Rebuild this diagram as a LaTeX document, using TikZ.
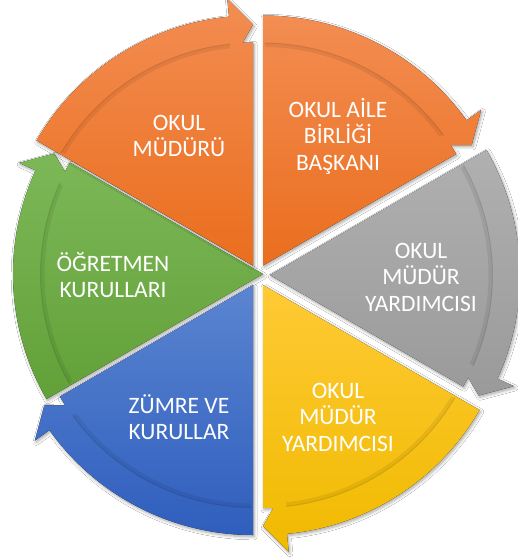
\documentclass[tikz,border=0pt]{standalone}
\usepackage{fontspec}
\setmainfont{Carlito}
\usetikzlibrary{shadows.blur}
\definecolor{orT}{HTML}{F38D52}
\definecolor{orB}{HTML}{EA6E1E}
\definecolor{grT}{HTML}{B0B0B0}
\definecolor{grB}{HTML}{9A9A9A}
\definecolor{yeT}{HTML}{FFCA35}
\definecolor{yeB}{HTML}{F0BA00}
\definecolor{blT}{HTML}{5B85D1}
\definecolor{blB}{HTML}{2F5EBD}
\definecolor{gnT}{HTML}{7DB858}
\definecolor{gnB}{HTML}{62A038}
\tikzset{
  segfill/.style={blur shadow={shadow blur steps=6, shadow xshift=1.2pt, shadow yshift=-1.8pt, shadow opacity=35, shadow blur radius=3pt}},
  innershade/.style={draw=black, opacity=0.07, line width=4pt},
  innerline/.style={draw=black, opacity=0.10, line width=1pt},
  seglabel/.style={text=white, align=center, font=\fontsize{23.5}{26.5}\selectfont, inner sep=0pt}
}
\def\Rin{223}
\def\Rout{250}
% #1 apex coordinate, #2 start angle (tail), #3 top colour, #4 bottom colour
\newcommand\cycseg[4]{%
  \pgfmathsetmacro\segE{#2-60}%
  \pgfmathsetmacro\segH{#2-60+5.5}%
  \fill[segfill, top color=#3, bottom color=#4]
    ([shift={#1}]0,0) -- ([shift={#1}]#2:\Rin)
      arc[start angle=#2, end angle=\segE, radius=\Rin] -- cycle
    ([shift={#1}]#2:\Rin) -- ([shift={#1}]#2:\Rout)
      arc[start angle=#2, end angle=\segH, radius=\Rout]
      -- ([shift={#1}]\segH:268) -- ([shift={#1}]\segE:241)
      -- ([shift={#1}]\segH:207) -- ([shift={#1}]\segH:\Rin)
      arc[start angle=\segH, end angle=#2, radius=\Rin] -- cycle;
  \draw[innershade] ([shift={#1}]#2-0.6:\Rin-2.5)
      arc[start angle=#2-0.6, end angle=\segH+0.6, radius=\Rin-2.5];
  \draw[innerline] ([shift={#1}]#2-0.3:\Rin-0.5)
      arc[start angle=#2-0.3, end angle=\segH+0.3, radius=\Rin-0.5];
}
\begin{document}
\begin{tikzpicture}[x=1pt,y=1pt]
\useasboundingbox (0,0) rectangle (518,-560);
\fill[white] (0,0) rectangle (518,-560);

\cycseg{(263,-274)}{210}{gnT}{gnB}
\cycseg{(253,-285)}{270}{blT}{blB}
\cycseg{(263,-285)}{330}{yeT}{yeB}
\cycseg{(270,-275)}{30}{grT}{grB}
\cycseg{(263,-265.5)}{90}{orT}{orB}
\cycseg{(253,-265.5)}{150}{orT}{orB}

\node[seglabel] (mudur) at (179,-136) {OKUL\\MÜDÜRÜ};
\node[seglabel] (aile) at (338,-136) {OKUL AİLE\\BİRLİĞİ\\BAŞKANI};
\node[seglabel] (yard1) at (421,-277) {OKUL\\MÜDÜR\\YARDIMCISI};
\node[seglabel] (yard2) at (338,-417) {OKUL\\MÜDÜR\\YARDIMCISI};
\node[seglabel] (zumre) at (179,-417) {ZÜMRE VE\\KURULLAR};
\node[seglabel] (ogret) at (113,-275) {ÖĞRETMEN\\KURULLARI};
\end{tikzpicture}
\end{document}
